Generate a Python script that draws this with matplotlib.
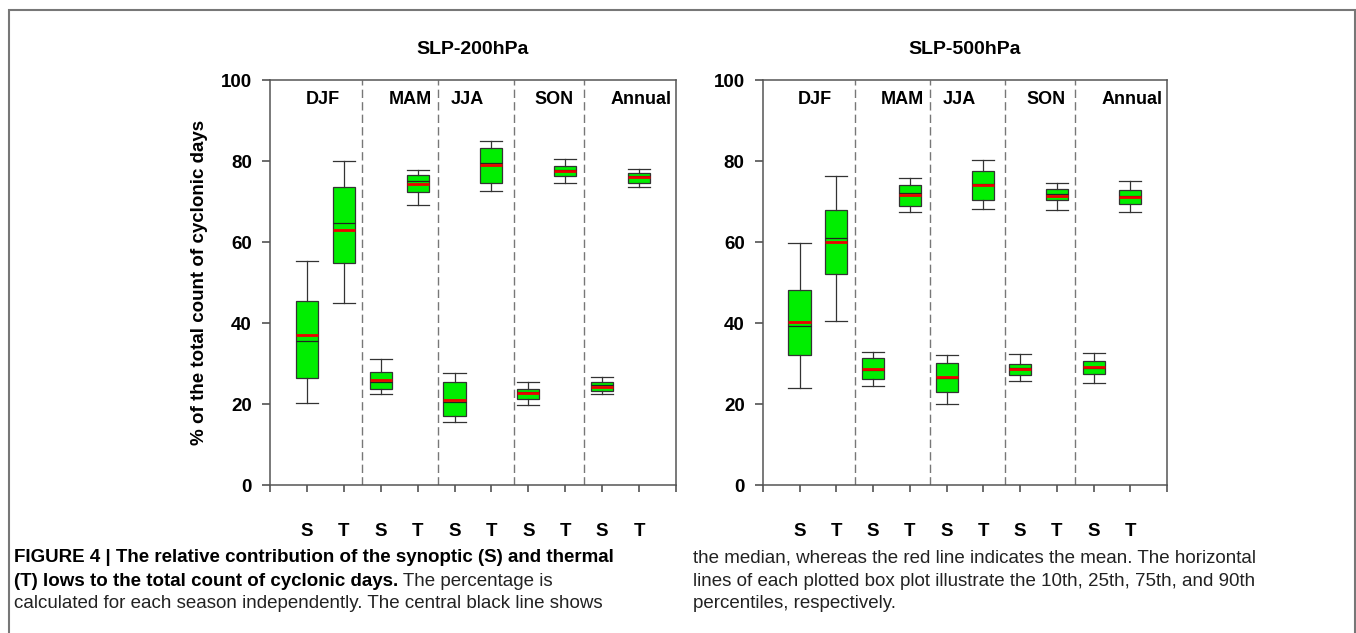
import numpy as np
import matplotlib
matplotlib.use("Agg")
import matplotlib.pyplot as plt
from matplotlib.patches import Rectangle

plt.rcParams['font.family'] = ['Liberation Sans', 'DejaVu Sans']

# x positions 1..10 : S/T pairs for each season
tick_labels = ['S', 'T'] * 5
seasons = ['DJF', 'MAM', 'JJA', 'SON', 'Annual']
season_x = [1.42, 3.8, 5.35, 7.7, 10.05]
separators = [2.5, 4.55, 6.6, 8.5]

# SLP-200hPa percentiles (10th, 25th, median, mean, 75th, 90th)
p10_200 = [20.3, 44.9, 22.5, 69.2, 15.5, 72.6, 19.8, 74.6, 22.5, 73.5]
p25_200 = [26.5, 54.7, 23.6, 72.3, 17.0, 74.6, 21.3, 76.4, 23.2, 74.6]
med_200 = [35.5, 64.6, 25.4, 75.0, 20.6, 79.6, 23.0, 77.9, 24.6, 76.4]
mean_200 = [37.1, 63.0, 25.9, 74.3, 21.0, 79.1, 22.7, 77.5, 24.3, 76.0]
p75_200 = [45.5, 73.7, 28.0, 76.5, 25.5, 83.3, 23.7, 78.8, 25.5, 77.0]
p90_200 = [55.3, 80.0, 31.0, 77.8, 27.7, 84.9, 25.5, 80.4, 26.7, 78.0]

# SLP-500hPa
p10_500 = [23.9, 40.4, 24.4, 67.4, 20.1, 68.1, 25.6, 67.9, 25.1, 67.5]
p25_500 = [32.2, 52.0, 26.1, 68.9, 23.0, 70.3, 27.2, 70.3, 27.4, 69.5]
med_500 = [39.2, 61.1, 28.4, 72.0, 26.3, 74.3, 28.8, 71.8, 28.8, 71.4]
mean_500 = [40.2, 60.1, 28.6, 71.6, 26.6, 74.1, 28.6, 71.4, 29.1, 71.2]
p75_500 = [48.1, 68.0, 31.4, 74.1, 30.1, 77.5, 29.9, 73.1, 30.6, 72.8]
p90_500 = [59.8, 76.3, 32.8, 75.9, 32.1, 80.2, 32.3, 74.5, 32.5, 75.1]


def make_stats(p10, p25, med, mean, p75, p90):
    stats = []
    for i in range(len(med)):
        stats.append(dict(whislo=p10[i], q1=p25[i], med=med[i], mean=mean[i],
                          q3=p75[i], whishi=p90[i], fliers=[]))
    return stats


def draw_panel(ax, stats, title, ylabel=None):
    edge = '#333333'
    ax.bxp(stats, positions=np.arange(1, 11), widths=0.6, patch_artist=True,
           showmeans=True, meanline=True, showfliers=False,
           boxprops=dict(facecolor='#00ee00', edgecolor=edge, linewidth=0.9),
           medianprops=dict(color='#222222', linewidth=0.9),
           meanprops=dict(color='#ee0000', linewidth=2.0, linestyle='-'),
           whiskerprops=dict(color=edge, linewidth=0.9),
           capprops=dict(color=edge, linewidth=0.9),
           capwidths=0.6)
    for xs in separators:
        ax.axvline(xs, color='#777777', linewidth=1.0, linestyle=(0, (6, 3)))
    for name, xs in zip(seasons, season_x):
        ax.text(xs, 95.3, name, ha='center', va='center', fontsize=13,
                fontweight='bold')
    ax.set_xlim(0, 11)
    ax.set_ylim(0, 100)
    ax.set_yticks(np.arange(0, 101, 20))
    ax.set_xticks(np.arange(0, 12))
    ax.set_xticklabels([''] + tick_labels + [''])
    ax.tick_params(axis='y', direction='out', length=6, width=1.1,
                   color='#444444', pad=7, labelsize=13.5)
    ax.tick_params(axis='x', direction='out', length=5, width=1.1,
                   color='#444444', pad=22, labelsize=13.5)
    for lab in ax.get_xticklabels() + ax.get_yticklabels():
        lab.set_fontweight('bold')
    for sp in ax.spines.values():
        sp.set_color('#555555')
        sp.set_linewidth(1.1)
    ax.set_title(title, fontsize=14, fontweight='bold', pad=19)
    if ylabel:
        ax.set_ylabel(ylabel, fontsize=13.5, fontweight='bold')
        ax.yaxis.set_label_coords(-0.153, 0.5)


fig = plt.figure(figsize=(13.56, 6.33), dpi=100)
ax1 = fig.add_axes([0.1991, 0.2338, 0.2994, 0.6398])
ax2 = fig.add_axes([0.5625, 0.2338, 0.2982, 0.6398])

draw_panel(ax1, make_stats(p10_200, p25_200, med_200, mean_200, p75_200, p90_200),
           'SLP-200hPa', '% of the total count of cyclonic days')
draw_panel(ax2, make_stats(p10_500, p25_500, med_500, mean_500, p75_500, p90_500),
           'SLP-500hPa')

# page frame around the figure panel
fig.add_artist(Rectangle((9 / 1356, -0.1), 1346 / 1356, 1.1 - 10 / 633,
                         transform=fig.transFigure, fill=False,
                         edgecolor='#777777', linewidth=1.5))

# caption, two columns
cap = 13.5
cap_color = '#222222'
y1, y2, y3 = 1 - 558 / 633, 1 - 581 / 633, 1 - 603 / 633
xl, xr = 14 / 1356, 693 / 1356
fig.text(xl, y1, 'FIGURE 4 | The relative contribution of the synoptic (S) and thermal',
         fontsize=cap, fontweight='bold', va='center', color='black')
t2 = fig.text(xl, y2, '(T) lows to the total count of cyclonic days.',
              fontsize=cap, fontweight='bold', va='center', color='black')
fig.canvas.draw()
bb = t2.get_window_extent()
fig.text(bb.x1 / fig.bbox.width, y2, ' The percentage is', fontsize=cap,
         va='center', color=cap_color)
fig.text(xl, y3, 'calculated for each season independently. The central black line shows',
         fontsize=cap, va='center', color=cap_color)
fig.text(xr, y1, 'the median, whereas the red line indicates the mean. The horizontal',
         fontsize=cap, va='center', color=cap_color)
fig.text(xr, y2, 'lines of each plotted box plot illustrate the 10th, 25th, 75th, and 90th',
         fontsize=cap, va='center', color=cap_color)
fig.text(xr, y3, 'percentiles, respectively.', fontsize=cap, va='center',
         color=cap_color)

fig.savefig('out.png', dpi=100)
